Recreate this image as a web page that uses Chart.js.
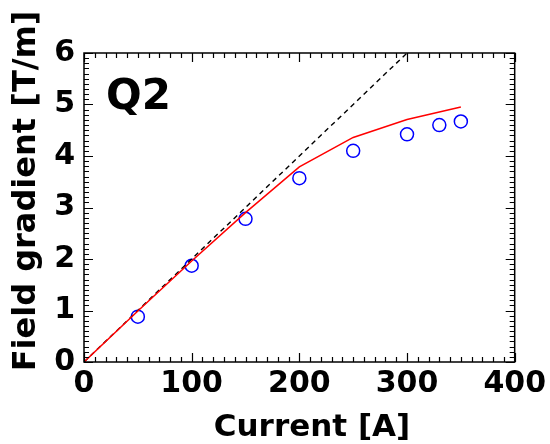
<!DOCTYPE html>
<html>
<head>
<meta charset="utf-8">
<script src="https://cdn.jsdelivr.net/npm/chart.js@4"></script>
<style>
  html, body { margin: 0; padding: 0; background: #fff; }
  #wrap { width: 550px; height: 444px; position: relative; }
</style>
</head>
<body>
<div id="wrap"><canvas id="chart"></canvas></div>
<script>
// calculated gradient (red line)
const calcCurrent = [0, 50, 100, 150, 200, 250, 300, 350];
const calcGradient = [0, 0.99, 1.96, 2.9, 3.79, 4.36, 4.71, 4.95];

// measured gradient (blue circles)
const measCurrent = [50, 100, 150, 200, 250, 300, 330, 350];
const measGradient = [0.88, 1.87, 2.78, 3.57, 4.10, 4.42, 4.60, 4.67];

// linear reference (dashed)
const linCurrent = [0, 300];
const linGradient = [0, 6];

const xTitle = 'Current [A]';
const yTitle = 'Field gradient [T/m]';
const panelLabel = 'Q2';

const FONT = '"DejaVu Sans", sans-serif';

const toPoints = (xs, ys) => xs.map((x, i) => ({ x: x, y: ys[i] }));

// draws the box, inward ticks on all four sides and the texts
const framePlugin = {
    id: 'frame',
    afterDraw(chart) {
        const { ctx, chartArea: a, scales: { x, y } } = chart;
        ctx.save();
        ctx.strokeStyle = '#000';
        ctx.lineWidth = 1.5;
        ctx.strokeRect(a.left, a.top, a.right - a.left, a.bottom - a.top);

        ctx.lineWidth = 1.2;
        ctx.beginPath();
        for (let v = x.min; v <= x.max + 0.001; v += 10) {
            const px = Math.round(x.getPixelForValue(v)) + 0.5;
            const len = (Math.round(v) % 100 === 0) ? 9 : 5;
            ctx.moveTo(px, a.bottom); ctx.lineTo(px, a.bottom - len);
            ctx.moveTo(px, a.top); ctx.lineTo(px, a.top + len);
        }
        for (let i = 0; i <= 60; i++) {
            const v = i / 10;
            const py = Math.round(y.getPixelForValue(v)) + 0.5;
            const len = (i % 10 === 0) ? 9 : 5;
            ctx.moveTo(a.left, py); ctx.lineTo(a.left + len, py);
            ctx.moveTo(a.right, py); ctx.lineTo(a.right - len, py);
        }
        ctx.stroke();

        ctx.fillStyle = '#000';
        ctx.font = 'bold 31px ' + FONT;
        ctx.textAlign = 'center';
        ctx.textBaseline = 'alphabetic';
        ctx.fillText(xTitle, 312, 436);

        ctx.save();
        ctx.translate(35, 191);
        ctx.rotate(-Math.PI / 2);
        ctx.font = 'bold 32px ' + FONT;
        ctx.fillText(yTitle, 0, 0);
        ctx.restore();

        ctx.font = 'bold 42px ' + FONT;
        ctx.textAlign = 'left';
        ctx.fillText(panelLabel, 106, 109);
        ctx.restore();
    }
};

new Chart(document.getElementById('chart'), {
    type: 'scatter',
    data: {
        datasets: [
            {
                data: toPoints(calcCurrent, calcGradient),
                showLine: true,
                borderColor: '#ff0000',
                borderWidth: 1.5,
                pointRadius: 0,
                tension: 0
            },
            {
                data: toPoints(linCurrent, linGradient),
                showLine: true,
                borderColor: '#000000',
                borderWidth: 1.4,
                borderDash: [5, 4],
                pointRadius: 0,
                tension: 0
            },
            {
                data: toPoints(measCurrent, measGradient),
                showLine: false,
                pointStyle: 'circle',
                pointRadius: 6.5,
                pointBorderWidth: 1.5,
                pointBorderColor: '#0000ff',
                pointBackgroundColor: 'rgba(0,0,0,0)'
            }
        ]
    },
    options: {
        responsive: true,
        maintainAspectRatio: false,
        animation: false,
        layout: { padding: { top: 53, right: 34, left: 0, bottom: 0 } },
        plugins: {
            legend: { display: false },
            tooltip: { enabled: false }
        },
        scales: {
            x: {
                type: 'linear',
                min: 0,
                max: 400,
                grid: { display: false, drawTicks: false },
                border: { display: false },
                ticks: {
                    stepSize: 100,
                    color: '#000',
                    padding: 4,
                    maxRotation: 0,
                    font: { family: FONT, size: 30, weight: 'bold' }
                },
                afterFit: (s) => { s.height = 82; }
            },
            y: {
                type: 'linear',
                min: 0,
                max: 6,
                grid: { display: false, drawTicks: false },
                border: { display: false },
                ticks: {
                    stepSize: 1,
                    color: '#000',
                    padding: 9,
                    font: { family: FONT, size: 30, weight: 'bold' }
                },
                afterFit: (s) => { s.width = 84; }
            }
        }
    },
    plugins: [framePlugin]
});
</script>
</body>
</html>
